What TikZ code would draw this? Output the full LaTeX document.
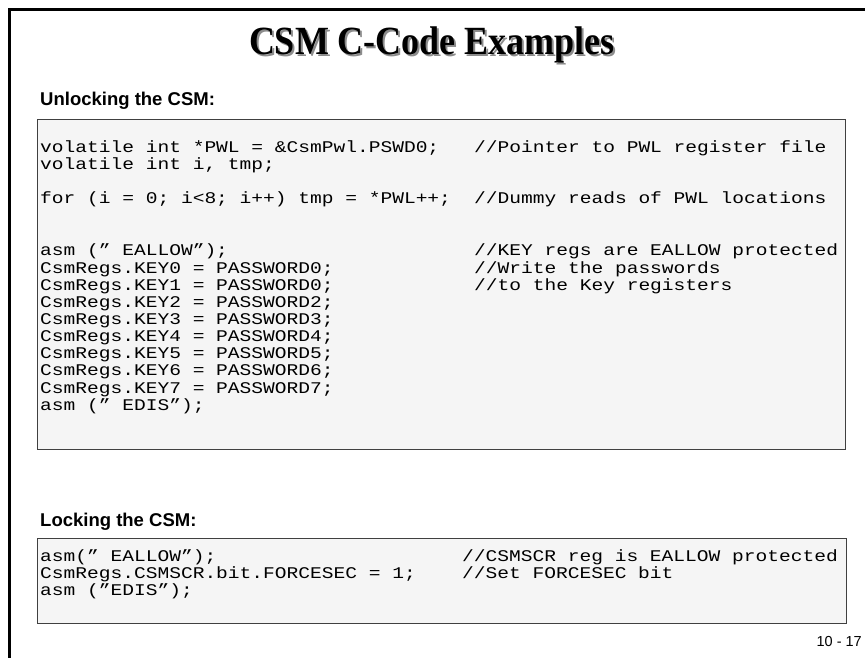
\documentclass[tikz,border=0pt]{standalone}
\usepackage{fontspec}
\setmainfont{Liberation Serif}
\setsansfont{Liberation Sans}
\setmonofont[FakeStretch=1.2]{Liberation Mono}
\newfontfamily\titlefamily[FakeStretch=0.9]{Liberation Serif}
\begin{document}
\begin{tikzpicture}[x=1pt,y=-1pt,
  codeline/.style={anchor=base west, inner sep=0pt, font=\ttfamily\fontsize{16.3}{16.3}\selectfont},
  codebox/.style={draw=black!75, line width=1.4pt, fill=black!4, anchor=north west, inner sep=0pt},
  heading/.style={anchor=base west, inner sep=0pt, font=\sffamily\bfseries\fontsize{18.5}{18.5}\selectfont},
  titlefont/.style={inner sep=0pt, font=\titlefamily\bfseries\fontsize{40}{40}\selectfont}]
\useasboundingbox (0,0) rectangle (865,658);
\fill[white] (0,0) rectangle (865,658);
% frame of the slide
\draw[line width=3pt] (9,658) -- (9,10) -- (865,10);
% title with its shade
\node[titlefont, text=black!45] (titleshade) at (434,47) {CSM C-Code Examples};
\node[titlefont] (title) at (432,45) {CSM C-Code Examples};
% unlocking
\node[heading] (unlockhead) at (40,106) {Unlocking the CSM:};
\node[codebox, minimum width=808, minimum height=330] (unlockbox) at (37,119) {};
\foreach \yy/\txt [count=\n] in {153/{volatile int *PWL = \&CsmPwl.PSWD0;},
    170/{volatile int i, tmp;},
    204/{for (i = 0; i<8; i++) tmp = *PWL++;},
    255/{asm (” EALLOW”);},
    273/{CsmRegs.KEY0 = PASSWORD0;},
    290/{CsmRegs.KEY1 = PASSWORD0;},
    307/{CsmRegs.KEY2 = PASSWORD2;},
    324/{CsmRegs.KEY3 = PASSWORD3;},
    341/{CsmRegs.KEY4 = PASSWORD4;},
    358/{CsmRegs.KEY5 = PASSWORD5;},
    375/{CsmRegs.KEY6 = PASSWORD6;},
    393/{CsmRegs.KEY7 = PASSWORD7;},
    410/{asm (” EDIS”);}}
  \node[codeline] (unlock\n) at (40,\yy) {\txt};
\foreach \yy/\txt [count=\n] in {153/{//Pointer to PWL register file},
    204/{//Dummy reads of PWL locations},
    255/{//KEY regs are EALLOW protected},
    273/{//Write the passwords},
    290/{//to the Key registers}}
  \node[codeline] (unlocknote\n) at (474,\yy) {\txt};
% locking
\node[heading] (lockhead) at (40,526) {Locking the CSM:};
\node[codebox, minimum width=809, minimum height=85] (lockbox) at (37,538) {};
\foreach \yy/\txt [count=\n] in {561/{asm(” EALLOW”);},
    578/{CsmRegs.CSMSCR.bit.FORCESEC = 1;},
    595/{asm (”EDIS”);}}
  \node[codeline] (lock\n) at (40,\yy) {\txt};
\foreach \yy/\txt [count=\n] in {561/{//CSMSCR reg is EALLOW protected},
    578/{//Set FORCESEC bit}}
  \node[codeline] (locknote\n) at (462,\yy) {\txt};
% slide number
\node[anchor=base east, inner sep=0pt, font=\sffamily\fontsize{14.5}{14.5}\selectfont] (pageno) at (862,646) {10 - 17};
\end{tikzpicture}
\end{document}
